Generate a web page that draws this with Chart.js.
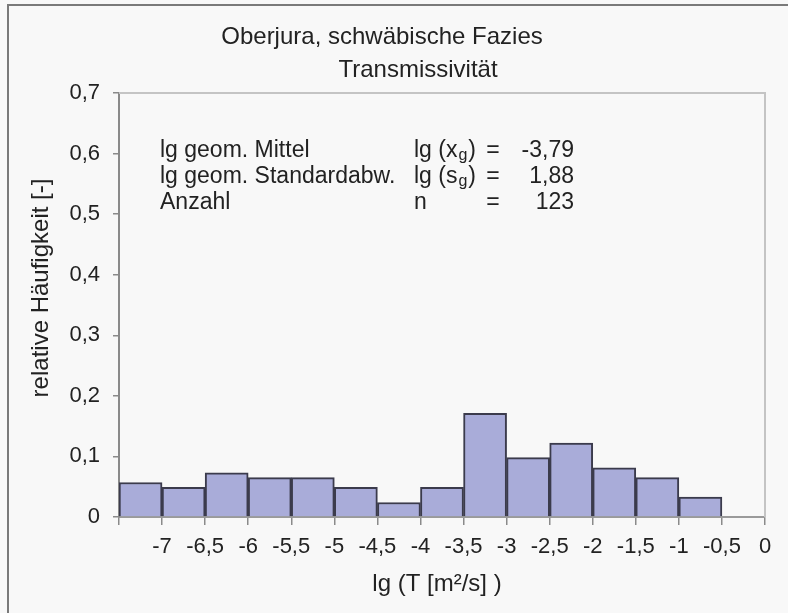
<!DOCTYPE html>
<html>
<head>
<meta charset="utf-8">
<script src="https://cdn.jsdelivr.net/npm/chart.js@4.4.1/dist/chart.umd.min.js"></script>
<style>
  html, body { margin: 0; padding: 0; background: #f8f8f8; }
  canvas { display: block; }
</style>
</head>
<body>
<canvas id="histChart" width="788" height="613"></canvas>
<script>
// Klassenmitten lg(T) und relative Häufigkeiten
const binCenters = [-7.25, -6.75, -6.25, -5.75, -5.25, -4.75, -4.25, -3.75, -3.25, -2.75, -2.25, -1.75, -1.25, -0.75];
const relFreq = [0.057, 0.049, 0.073, 0.065, 0.065, 0.049, 0.024, 0.049, 0.171, 0.098, 0.122, 0.081, 0.065, 0.033];

const statLabels = ["lg geom. Mittel", "lg geom. Standardabw.", "Anzahl"];
const statSymbols = [["lg (x", "g", ")"], ["lg (s", "g", ")"], ["n", "", ""]];
const statValues = ["-3,79", "1,88", "123"];

const fontFamily = "'Liberation Sans', Arial, sans-serif";
const fmt = v => (Math.abs(v) < 1e-9 ? "0" : (Math.round(v * 10) / 10).toString().replace(".", ","));

// Rahmen, Titel, Textblock und Achsentitel
const decorations = {
    id: "decorations",
    beforeDraw(chart) {
        const ctx = chart.ctx;
        ctx.save();
        ctx.fillStyle = "#f8f8f8";
        ctx.fillRect(0, 0, chart.width, chart.height);
        ctx.strokeStyle = "#7a7a7a";
        ctx.lineWidth = 2;
        ctx.beginPath();
        ctx.moveTo(8, chart.height);
        ctx.lineTo(8, 5);
        ctx.lineTo(chart.width, 5);
        ctx.stroke();
        ctx.restore();
    },
    afterDraw(chart) {
        const ctx = chart.ctx;
        const a = chart.chartArea;
        ctx.save();
        // obere und rechte Begrenzung der Zeichenfläche
        ctx.strokeStyle = "#c4c4c4";
        ctx.lineWidth = 2;
        ctx.beginPath();
        ctx.moveTo(a.left, a.top);
        ctx.lineTo(a.right, a.top);
        ctx.lineTo(a.right, a.bottom);
        ctx.stroke();

        ctx.fillStyle = "#222";
        ctx.textBaseline = "alphabetic";
        ctx.textAlign = "center";
        ctx.font = "24px " + fontFamily;
        ctx.fillText("Oberjura, schwäbische Fazies", 382, 44);
        ctx.fillText("Transmissivität", 418, 77);

        // Kennwerte
        ctx.font = "23px " + fontFamily;
        const baselines = [157, 183, 209];
        statLabels.forEach((label, i) => {
            const y = baselines[i];
            ctx.textAlign = "left";
            ctx.font = "23px " + fontFamily;
            ctx.fillText(label, 160, y);
            const sym = statSymbols[i];
            let x = 414;
            ctx.fillText(sym[0], x, y);
            x += ctx.measureText(sym[0]).width;
            if (sym[1]) {
                ctx.font = "16px " + fontFamily;
                ctx.fillText(sym[1], x + 1, y + 3);
                x += ctx.measureText(sym[1]).width + 2;
                ctx.font = "23px " + fontFamily;
            }
            ctx.fillText(sym[2], x, y);
            ctx.textAlign = "center";
            ctx.fillText("=", 493, y);
            ctx.textAlign = "right";
            ctx.fillText(statValues[i], 574, y);
        });

        // Achsentitel
        ctx.font = "24px " + fontFamily;
        ctx.textAlign = "center";
        ctx.fillText("lg (T [m²/s] )", 437, 591);
        ctx.translate(48, 288);
        ctx.rotate(-Math.PI / 2);
        ctx.fillText("relative Häufigkeit [-]", 0, 0);
        ctx.restore();
    }
};

new Chart(document.getElementById("histChart"), {
    type: "bar",
    data: {
        datasets: [{
            label: "relative Häufigkeit",
            data: binCenters.map((x, i) => ({ x: x, y: relFreq[i] })),
            backgroundColor: "#a9acd9",
            borderColor: "#3b3b4c",
            borderWidth: 2,
            borderSkipped: "bottom",
            barPercentage: 1,
            categoryPercentage: 1
        }]
    },
    options: {
        responsive: false,
        animation: false,
        layout: { padding: { top: 93, right: 23, left: 0, bottom: 0 } },
        plugins: {
            legend: { display: false },
            tooltip: { enabled: false }
        },
        scales: {
            x: {
                type: "linear",
                min: -7.5,
                max: 0,
                offset: false,
                afterFit: s => { s.height = 96; },
                ticks: {
                    stepSize: 0.5,
                    autoSkip: false,
                    maxRotation: 0,
                    padding: 9,
                    color: "#222",
                    font: { family: fontFamily, size: 22 },
                    callback: v => (Math.abs(v + 7.5) < 1e-9 ? "" : fmt(v))
                },
                grid: { drawOnChartArea: false, offset: false, tickLength: 8, color: "#8a8a8a", lineWidth: 1.5 },
                border: { color: "#9a9a9a", width: 2 }
            },
            y: {
                min: 0,
                max: 0.7,
                afterFit: s => { s.width = 119; },
                ticks: {
                    stepSize: 0.1,
                    padding: 13,
                    color: "#222",
                    font: { family: fontFamily, size: 22 },
                    callback: v => fmt(v)
                },
                grid: { drawOnChartArea: false, tickLength: 6, color: "#8a8a8a", lineWidth: 1.5 },
                border: { color: "#8a8a8a", width: 2 }
            }
        }
    },
    plugins: [decorations]
});
</script>
</body>
</html>
